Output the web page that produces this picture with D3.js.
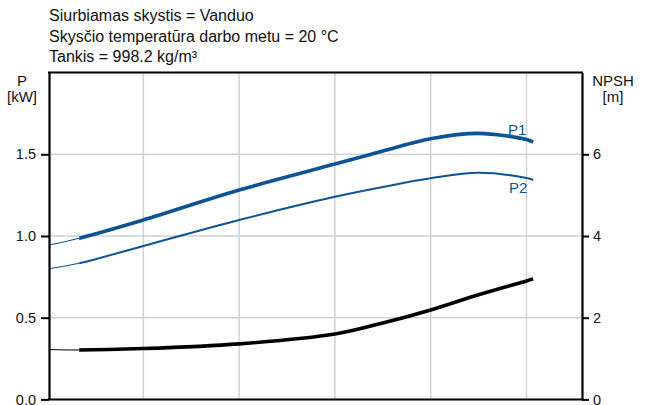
<!DOCTYPE html>
<html>
<head>
<meta charset="utf-8">
<script src="https://cdn.jsdelivr.net/npm/d3@7"></script>
<style>
  body { margin: 0; background: #fff; }
  text { font-family: "Liberation Sans", Arial, sans-serif; }
</style>
</head>
<body>
<script>
// header lines above the plot
var headerLines = ['Siurbiamas skystis = Vanduo',
                   'Skysčio temperatūra darbo metu = 20 °C',
                   'Tankis = 998.2 kg/m³'];

// flow, in grid units (no labels on the x axis)
var flow = [0.015, 0.33, 1, 2, 3, 3.5, 4, 4.5, 5, 5.07];
var p1   = [0.945, 0.986, 1.098, 1.281, 1.44, 1.52, 1.595, 1.628, 1.59, 1.575];
var p2   = [0.80, 0.833, 0.939, 1.098, 1.24, 1.30, 1.353, 1.387, 1.355, 1.343];
var npsh = [1.22, 1.21, 1.245, 1.36, 1.60, 1.87, 2.19, 2.56, 2.90, 2.95];

var flowGrid = [1, 2, 3, 4, 5];
var pTicks = [0, 0.5, 1, 1.5];
var npshTicks = [0, 2, 4, 6];
var opStart = 0.33; // where the thin (extrapolated) part ends

var width = 647;
var height = 405;
var plotLeft = 49, plotRight = 582, plotTop = 72.6, plotBottom = 399.4;
var blue = '#0e5494';

var svg = d3.select('body')
            .append('svg')
            .attr('width', width)
            .attr('height', height);

var x = d3.scaleLinear().domain([0.015, 5.58]).range([plotLeft, plotRight]);
var yP = d3.scaleLinear().domain([0, 2]).range([plotBottom, plotTop]);
var yN = d3.scaleLinear().domain([0, 8]).range([plotBottom, plotTop]);

// header
svg.append('g').selectAll('text')
   .data(headerLines)
   .enter()
   .append('text')
   .attr('x', 49)
   .attr('y', function(d, i) { return 21 + i * 20.5; })
   .attr('font-size', 16)
   .attr('fill', '#111')
   .text(function(d) { return d; });

// grid
svg.append('g').selectAll('line')
   .data(flowGrid)
   .enter()
   .append('line')
   .attr('x1', function(d) { return x(d); })
   .attr('x2', function(d) { return x(d); })
   .attr('y1', plotTop)
   .attr('y2', plotBottom)
   .attr('stroke', '#cfd3d7')
   .attr('stroke-width', 1.5);

svg.append('g').selectAll('line')
   .data(pTicks.filter(function(d) { return d > 0; }))
   .enter()
   .append('line')
   .attr('x1', plotLeft)
   .attr('x2', plotRight)
   .attr('y1', function(d) { return yP(d); })
   .attr('y2', function(d) { return yP(d); })
   .attr('stroke', '#cfd3d7')
   .attr('stroke-width', 1.5);

// clip areas: thin part and thick part
var defs = svg.append('defs');
defs.append('clipPath').attr('id', 'thin')
    .append('rect')
    .attr('x', 0).attr('y', 0)
    .attr('width', x(opStart)).attr('height', height);
defs.append('clipPath').attr('id', 'thick')
    .append('rect')
    .attr('x', x(opStart)).attr('y', 0)
    .attr('width', width - x(opStart)).attr('height', height);

var curves = [
  {values: p1, scale: yP, color: blue, w: 3.6},
  {values: p2, scale: yP, color: blue, w: 2},
  {values: npsh, scale: yN, color: '#000', w: 3.6}
];

curves.forEach(function(c) {
  var line = d3.line()
               .x(function(d, i) { return x(flow[i]); })
               .y(function(d) { return c.scale(d); })
               .curve(d3.curveCatmullRom);
  svg.append('path')
     .attr('d', line(c.values))
     .attr('fill', 'none')
     .attr('stroke', c.color)
     .attr('stroke-width', 1.1)
     .attr('clip-path', 'url(#thin)');
  svg.append('path')
     .attr('d', line(c.values))
     .attr('fill', 'none')
     .attr('stroke', c.color)
     .attr('stroke-width', c.w)
     .attr('clip-path', 'url(#thick)');
});

// curve labels
var last = flow.length - 1;
svg.append('text')
   .attr('x', x(flow[last]) - 16)
   .attr('y', yP(p1[last]) - 7)
   .attr('text-anchor', 'middle')
   .attr('font-size', 15)
   .attr('fill', blue)
   .text('P1');
svg.append('text')
   .attr('x', x(flow[last]) - 15)
   .attr('y', yP(p2[last]) + 13)
   .attr('text-anchor', 'middle')
   .attr('font-size', 15)
   .attr('fill', blue)
   .text('P2');

// frame
svg.append('line')
   .attr('x1', plotLeft - 1).attr('x2', plotRight + 1)
   .attr('y1', plotTop).attr('y2', plotTop)
   .attr('stroke', '#000').attr('stroke-width', 2);
svg.append('line')
   .attr('x1', plotLeft - 1).attr('x2', plotRight + 1)
   .attr('y1', plotBottom).attr('y2', plotBottom)
   .attr('stroke', '#000').attr('stroke-width', 2);

// axes
var leftAxis = svg.append('g')
   .attr('transform', 'translate(' + plotLeft + ',0)')
   .call(d3.axisLeft(yP).tickValues(pTicks).tickFormat(d3.format('.1f'))
           .tickSize(8).tickSizeOuter(0).tickPadding(5));
var rightAxis = svg.append('g')
   .attr('transform', 'translate(' + plotRight + ',0)')
   .call(d3.axisRight(yN).tickValues(npshTicks).tickFormat(d3.format('d'))
           .tickSize(7).tickSizeOuter(0).tickPadding(4));

[leftAxis, rightAxis].forEach(function(a) {
  a.select('.domain').attr('stroke', '#000').attr('stroke-width', 2.2);
  a.selectAll('.tick line').attr('stroke', '#000').attr('stroke-width', 2);
  a.selectAll('.tick text')
   .attr('font-size', 14.5)
   .attr('fill', '#111')
   .attr('font-family', '"Liberation Sans", Arial, sans-serif');
});

// axis titles
var titles = [
  {x: 22, lines: ['P', '[kW]']},
  {x: 613, lines: ['NPSH', '[m]']}
];
titles.forEach(function(t) {
  svg.append('g').selectAll('text')
     .data(t.lines)
     .enter()
     .append('text')
     .attr('x', t.x)
     .attr('y', function(d, i) { return 86 + i * 15.5; })
     .attr('text-anchor', 'middle')
     .attr('font-size', 15)
     .attr('fill', '#111')
     .text(function(d) { return d; });
});
</script>
</body>
</html>
